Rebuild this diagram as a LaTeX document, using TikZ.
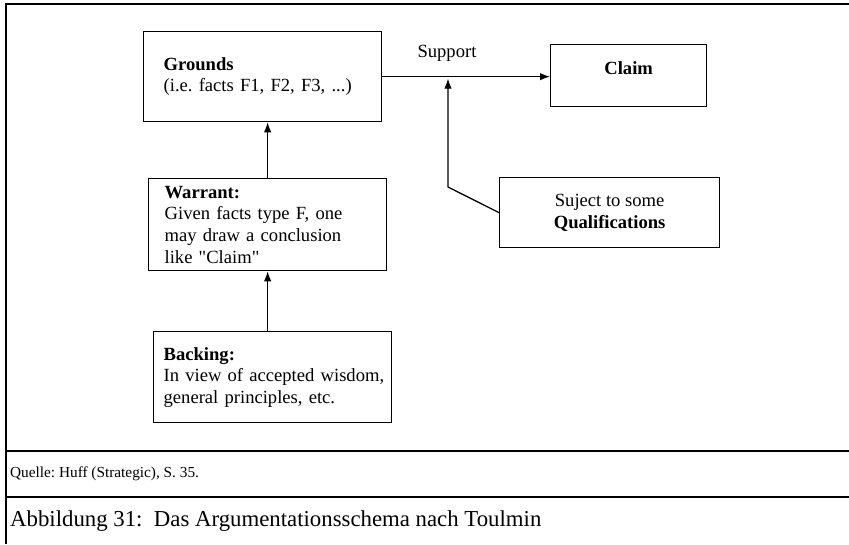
\documentclass[tikz,border=0pt]{standalone}
\usepackage{fontspec}
\setmainfont{Liberation Serif}
\usetikzlibrary{arrows.meta}
\frenchspacing
\begin{document}
\begin{tikzpicture}[x=1pt,y=-1pt,
  box/.style={draw,line width=1.3pt,anchor=north west,font=\fontsize{18.6}{21.6}\selectfont},
  arr/.style={line width=1.3pt,-{Latex[length=10pt,width=7.5pt]}}]
\useasboundingbox (0,0) rectangle (849,544);
% frame
\draw[line width=1.6pt] (849,4) -- (6,4) -- (6,544);
\draw[line width=1.6pt] (6,451) -- (849,451);
\draw[line width=1.6pt] (6,497) -- (849,497);
% boxes
\node[box,align=left,text width=198pt,inner xsep=20pt,minimum height=90pt] (grounds) at (143,31) {\textbf{Grounds}\\\mbox{(i.e. facts F1, F2, F3, ...)}};
\node[box,inner ysep=17.5pt,text height=12pt,text depth=15pt,minimum width=156pt] (claim) at (550,44) {\textbf{Claim}};
\node[box,align=left,text width=206pt,inner xsep=16pt,minimum height=92pt] (warrant) at (148,178) {\textbf{Warrant:}\\Given facts type F, one\\may draw a conclusion\\like \textquotedbl Claim\textquotedbl};
\node[box,align=left,text width=218pt,inner xsep=10pt,minimum height=91pt] (backing) at (153,331) {\textbf{Backing:}\\\mbox{In view of accepted wisdom,}\\general principles, etc.};
\node[box,align=center,minimum width=220pt,minimum height=70pt] (qualif) at (499,177) {Suject to some\\\textbf{Qualifications}};
\node[anchor=base,inner sep=0pt,font=\fontsize{18.6}{21.6}\selectfont] (support) at (447,57) {Support};
% arrows
\draw[arr] (grounds.east) -- (grounds.east -| claim.west);
\draw[arr] (warrant.north) -- (warrant.north |- grounds.south);
\draw[arr] (backing.north -| warrant.south) -- (warrant.south);
\coordinate (bend) at (448,187);
\draw[arr,shorten >=2pt] (qualif.west) -- (bend) -- (bend |- grounds.east);
% source and caption
\node[anchor=base west,inner sep=0pt,font=\fontsize{15.3}{17}\selectfont] (quelle) at (10,477) {Quelle: Huff (Strategic), S. 35.};
\node[anchor=base west,inner sep=0pt,font=\fontsize{22.8}{25}\selectfont] (caption) at (10,526) {Abbildung 31:\ \ Das Argumentationsschema nach Toulmin};
\end{tikzpicture}
\end{document}
